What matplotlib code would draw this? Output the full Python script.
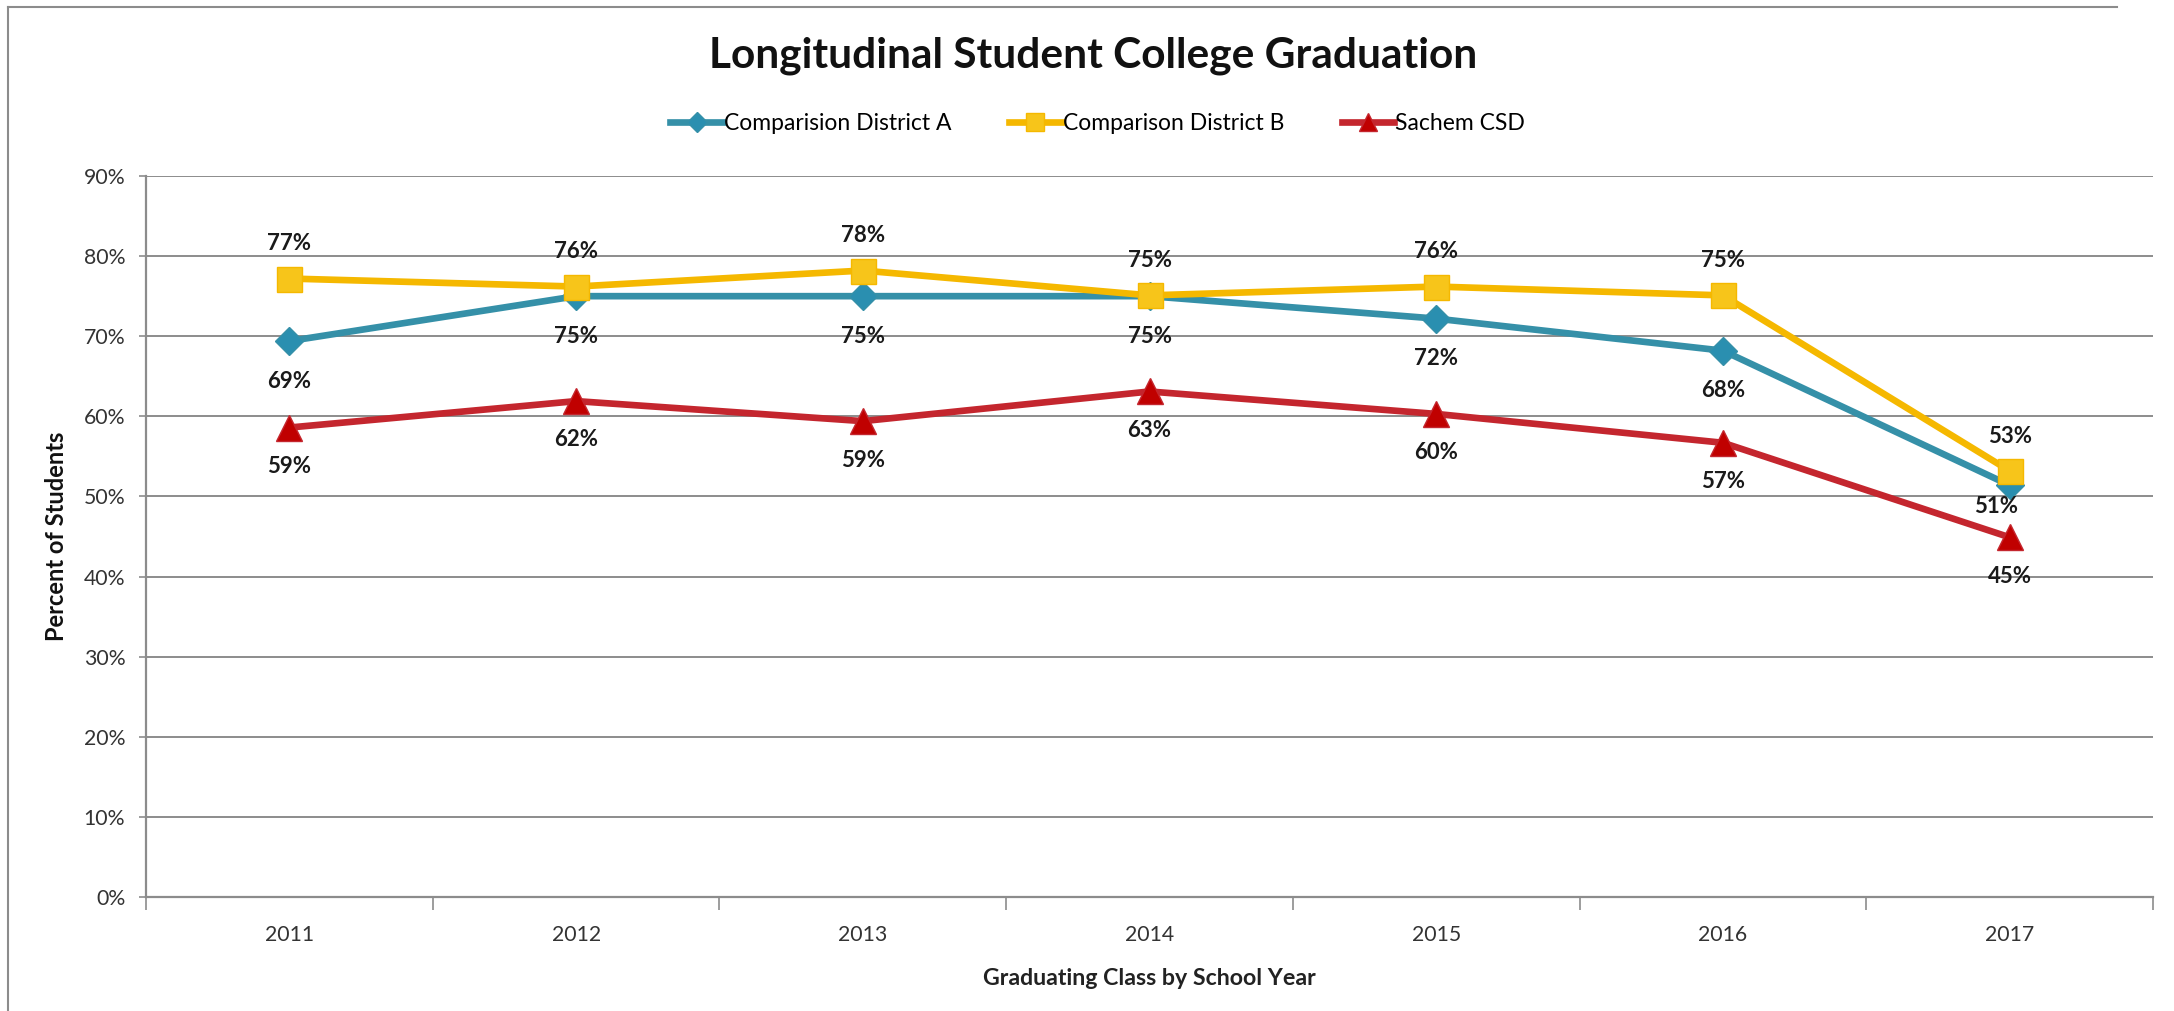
import numpy as np
import matplotlib
matplotlib.use("Agg")
import matplotlib.pyplot as plt
from matplotlib.lines import Line2D

plt.rcParams['font.family'] = ['Lato', 'DejaVu Sans']

# ----- data -----
years = ['2011', '2012', '2013', '2014', '2015', '2016', '2017']
district_a = [69.4, 75.0, 75.0, 75.0, 72.2, 68.2, 51.4]
district_b = [77.2, 76.2, 78.2, 75.1, 76.2, 75.1, 53.2]
sachem = [58.6, 61.9, 59.4, 63.1, 60.3, 56.7, 44.9]
series_names = ['Comparision District A', 'Comparison District B', 'Sachem CSD']
y_ticks = [0, 10, 20, 30, 40, 50, 60, 70, 80, 90]

fig = plt.figure(figsize=(21.74, 10.11), dpi=100)
ax = fig.add_axes((0.0672, 0.1128, 0.9231, 0.7131))

x = np.arange(len(years))

styles = [
    # values, colour, marker, marker size, label offset (pt)
    (district_a, '#3590A8', 'D', 14, -29),
    (district_b, '#F5B800', 's', 18, 25),
    (sachem, '#C4262E', '^', 19, -28),
]
marker_faces = ['#2A8FB0', '#F7C51A', '#C00000']

for (vals, col, mk, ms, dy), name, face in zip(styles, series_names, marker_faces):
    ax.plot(x, vals, '-', color=col, lw=4.8, marker=mk, ms=ms,
            markerfacecolor=face, markeredgecolor=col, markeredgewidth=1,
            label=name, zorder=3, solid_joinstyle='round')
    for i, v in enumerate(vals):
        dx = 0
        off = dy
        if name == series_names[0] and i == len(vals) - 1:
            dx, off = -10, -15
        ax.annotate(f"{v:.0f}%", (x[i], v), xytext=(dx, off),
                    textcoords='offset points', ha='center', va='center',
                    fontsize=16, fontweight='bold', color='#1a1a1a', zorder=4)

ax.set_xlim(-0.5, len(years) - 0.5)
ax.set_ylim(0, 90)
ax.set_yticks(y_ticks)
ax.set_yticklabels([f"{t}%" for t in y_ticks])
ax.set_xticks(x)
ax.set_xticklabels(years)
ax.set_xticks(np.arange(len(years) + 1) - 0.5, minor=True)

ax.tick_params(axis='x', which='major', length=0, pad=20, labelsize=15.3, colors='#333333')
ax.tick_params(axis='x', which='minor', length=9, width=1.2, color='#8c8c8c', direction='out')
ax.tick_params(axis='y', length=5, width=1.2, color='#8c8c8c', pad=10, labelsize=15.3,
               labelcolor='#333333')

ax.grid(axis='y', color='#8c8c8c', lw=1.4)
ax.set_axisbelow(True)
for s in ['top', 'right']:
    ax.spines[s].set_visible(False)
for s in ['left', 'bottom']:
    ax.spines[s].set_color('#8c8c8c')
    ax.spines[s].set_linewidth(1.6)

ax.set_ylabel('Percent of Students', fontsize=17, fontweight='bold', color='#111111')
ax.yaxis.set_label_coords(-0.039, 0.5)
ax.set_xlabel('Graduating Class by School Year', fontsize=16.7, fontweight='bold', color='#222222')
ax.xaxis.set_label_coords(0.5, -0.098)

fig.text(0.503, 0.945, 'Longitudinal Student College Graduation', ha='center', va='center',
         fontsize=30.5, fontweight='bold', color='#111111')

fig.legend(loc='center', bbox_to_anchor=(0.505, 0.878), ncol=3, frameon=False,
           fontsize=16.5, handlelength=2.3, handletextpad=0.05, columnspacing=2.5,
           markerscale=0.7)

# outer chart frame (left and top edges visible in the screenshot)
fig.add_artist(Line2D([0.0037, 0.0037], [0.0, 0.993], color='#8c8c8c', lw=1.5))
fig.add_artist(Line2D([0.0037, 0.974], [0.993, 0.993], color='#8c8c8c', lw=1.5))

fig.savefig('out.png', dpi=100)
